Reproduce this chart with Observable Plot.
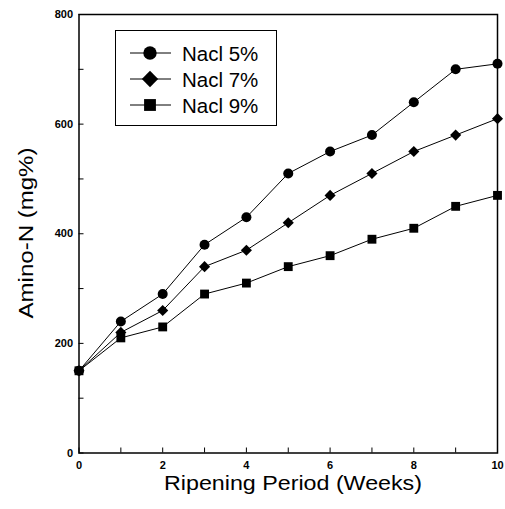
<!DOCTYPE html>
<html>
<head>
<meta charset="utf-8">
<script src="https://cdn.jsdelivr.net/npm/d3@7"></script>
<script src="https://cdn.jsdelivr.net/npm/@observablehq/plot@0.6"></script>
<style>
  html, body { margin: 0; padding: 0; background: #fff; }
  #wrap { position: relative; width: 505px; height: 509px; }
</style>
</head>
<body>
<div id="wrap"></div>
<script>
const weeks = [0, 1, 2, 3, 4, 5, 6, 7, 8, 9, 10];
const nacl5 = [150, 240, 290, 380, 430, 510, 550, 580, 640, 700, 710];
const nacl7 = [150, 220, 260, 340, 370, 420, 470, 510, 550, 580, 610];
const nacl9 = [150, 210, 230, 290, 310, 340, 360, 390, 410, 450, 470];
const seriesNames = ["Nacl 5%", "Nacl 7%", "Nacl 9%"];
const seriesSymbols = ["circle", "diamond2", "square"];
const yMajor = [0, 200, 400, 600, 800];
const yMinor = [100, 300, 500, 700];
const xMajor = [0, 2, 4, 6, 8, 10];
const xMinor = [1, 3, 5, 7, 9];

const seriesValues = [nacl5, nacl7, nacl9];
const data = seriesValues.flatMap((vals, i) =>
  vals.map((v, j) => ({week: weeks[j], value: v, series: seriesNames[i]})));

const fontFamily = 'Arial, "Liberation Sans", Helvetica, sans-serif';

const chart = Plot.plot({
  width: 505,
  height: 509,
  marginLeft: 78.5,
  marginRight: 8,
  marginTop: 14,
  marginBottom: 56.5,
  style: {fontFamily, background: "#fff", color: "#000", overflow: "visible"},
  x: {domain: [0, 10]},
  y: {domain: [0, 800]},
  symbol: {domain: seriesNames, range: seriesSymbols},
  marks: [
    // tick labels
    Plot.axisY(yMajor, {tickSize: 0, tickPadding: 6, fontSize: 11, fontWeight: "bold", label: null}),
    Plot.axisX(xMajor, {tickSize: 0, tickPadding: 8, fontSize: 11, fontWeight: "bold", label: null}),
    // inward ticks (shifted inside the frame)
    Plot.axisY(yMajor.concat(yMinor), {text: null, tickSize: 5, dx: 5, label: null, stroke: "#000"}),
    Plot.axisX(xMajor.concat(xMinor), {text: null, tickSize: 5, dy: -5, label: null, stroke: "#000"}),
    Plot.frame({stroke: "#000", strokeWidth: 1.5}),
    Plot.line(data, {x: "week", y: "value", z: "series", stroke: "#000", strokeWidth: 1}),
    Plot.dot(data, {x: "week", y: "value", symbol: "series", fill: "#000", stroke: "none", r: 5})
  ]
});

const wrap = document.getElementById("wrap");
wrap.appendChild(chart);

const svg = d3.select(chart);
// axis titles
svg.append("text")
  .attr("x", 293).attr("y", 490)
  .attr("text-anchor", "middle")
  .attr("font-size", 21).attr("font-family", fontFamily).attr("fill", "#000")
  .attr("textLength", 258).attr("lengthAdjust", "spacingAndGlyphs")
  .text("Ripening Period (Weeks)");
svg.append("text")
  .attr("transform", "translate(33,233) rotate(-90)")
  .attr("text-anchor", "middle")
  .attr("font-size", 21).attr("font-family", fontFamily).attr("fill", "#000")
  .attr("textLength", 171).attr("lengthAdjust", "spacingAndGlyphs")
  .text("Amino-N (mg%)");

// legend
const lg = svg.append("g");
lg.append("rect")
  .attr("x", 115.5).attr("y", 30.5).attr("width", 161).attr("height", 95)
  .attr("fill", "#fff").attr("stroke", "#000").attr("stroke-width", 1);
const legendSymbols = {
  circle: d3.symbol(d3.symbolCircle, 140)(),
  diamond2: d3.symbol(d3.symbolDiamond2, 170)(),
  square: d3.symbol(d3.symbolSquare, 140)()
};
seriesNames.forEach((name, i) => {
  const cy = 53 + i * 26;
  lg.append("line").attr("x1", 130).attr("x2", 171).attr("y1", cy).attr("y2", cy)
    .attr("stroke", "#000").attr("stroke-width", 1);
  lg.append("path").attr("d", legendSymbols[seriesSymbols[i]])
    .attr("transform", `translate(150,${cy})`).attr("fill", "#000");
  lg.append("text").attr("x", 182).attr("y", cy + 7.5)
    .attr("text-anchor", "start")
    .attr("font-size", 20.5).attr("font-family", fontFamily).attr("fill", "#000")
    .text(name);
});
</script>
</body>
</html>
